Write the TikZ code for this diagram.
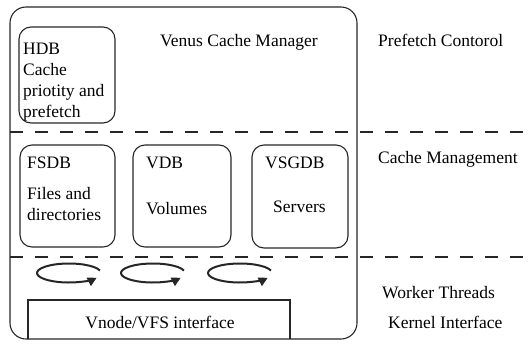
\documentclass[tikz,border=0pt]{standalone}
\usepackage{fontspec}
\setmainfont{Liberation Serif}
\usetikzlibrary{arrows.meta}

\begin{document}
\begin{tikzpicture}[x=1pt,y=-1pt,
  lbl/.style={font=\fontsize{17.5}{20.7}\selectfont, anchor=base west, inner sep=0pt, align=left},
  dbbox/.style={draw=black!85, line width=1.1pt, rounded corners=12pt},
  layer/.style={draw=black!85, line width=2pt, dash pattern=on 13pt off 12pt},
  thread/.style={draw=black!85, line width=2pt, -{Triangle[length=9pt,width=9pt]}}]
\useasboundingbox (0,0) rectangle (529,343);
% outer cache manager box
\draw[dbbox, rounded corners=16pt] (10,7) rectangle (357,339);
\draw[layer] (10,132) -- (529,132);
\draw[layer] (10,257) -- (529,257);
% databases (multi-line text sits on its last baseline)
\draw[dbbox] (19,27) rectangle (115,123);
\node[lbl] (hdb) at (23,117) {HDB\\Cache\\priotity and\\prefetch};
\draw[dbbox] (20,145) rectangle (115,247);
\node[lbl] (fsdb) at (27,168) {FSDB};
\node[lbl] (fsdbtxt) at (27,220) {Files and\\directories};
\draw[dbbox] (133,145) rectangle (231,247);
\node[lbl] (vdb) at (146,168) {VDB};
\node[lbl] (vdbtxt) at (146,214) {Volumes};
\draw[dbbox] (252,145) rectangle (348,248);
\node[lbl] (vsgdb) at (265,168) {VSGDB};
\node[lbl] (vsgdbtxt) at (273,212) {Servers};
% worker threads
\draw[thread] (69,273) ++(-15:32 and 9.5) arc[start angle=-15, end angle=-330, x radius=32, y radius=9.5];
\draw[thread] (153,273) ++(-15:32 and 9.5) arc[start angle=-15, end angle=-330, x radius=32, y radius=9.5];
\draw[thread] (240,273) ++(-15:32 and 9.5) arc[start angle=-15, end angle=-330, x radius=32, y radius=9.5];
% kernel interface
\draw[draw=black!85, line width=1.1pt] (28,339) -- (28,300) -- (290,300) -- (290,339);
\node[lbl, anchor=base] (vnode) at (160,328) {Vnode/VFS interface};
% layer labels
\node[lbl] (venus) at (160,46) {Venus Cache Manager};
\node[lbl] (prefetch) at (378,46) {Prefetch Contorol};
\node[lbl] (cachemgmt) at (378,163) {Cache Management};
\node[lbl] (workers) at (382,298) {Worker Threads};
\node[lbl] (kernel) at (388,328) {Kernel Interface};
\end{tikzpicture}
\end{document}
